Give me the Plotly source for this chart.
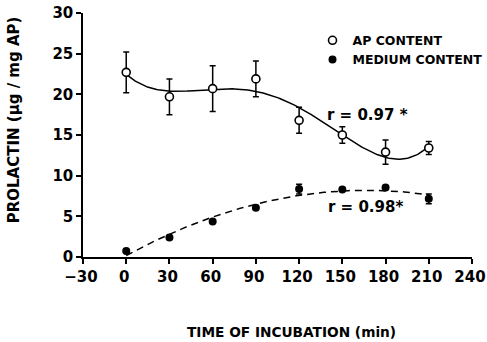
import numpy as np
import plotly.graph_objects as go

time_min = [0, 30, 60, 90, 120, 150, 180, 210]
ap_content = [22.7, 19.7, 20.7, 21.9, 16.8, 15.0, 12.9, 13.4]
ap_err = [2.5, 2.2, 2.8, 2.2, 1.6, 1.0, 1.5, 0.8]
medium_content = [0.75, 2.4, 4.35, 6.05, 8.35, 8.3, 8.55, 7.15]
medium_err = [0.2, 0.2, 0.2, 0.2, 0.6, 0.2, 0.2, 0.6]
x_ticks = [-30, 0, 30, 60, 90, 120, 150, 180, 210, 240]
y_ticks = [0, 5, 10, 15, 20, 25, 30]

FONT = "DejaVu Sans"

# fitted regression curves (derived from the data)
xf = np.linspace(0, 210, 200)
ap_fit = np.polyval(np.polyfit(time_min, ap_content, 4), xf)
med_fit = np.polyval(np.polyfit(time_min, medium_content, 2), xf)

fig = go.Figure()
fig.add_trace(go.Scatter(x=xf, y=ap_fit, mode="lines", hoverinfo="skip",
                         line=dict(color="black", width=1.5), showlegend=False))
fig.add_trace(go.Scatter(x=xf, y=med_fit, mode="lines", hoverinfo="skip",
                         line=dict(color="black", width=1.5, dash="7px,5px"), showlegend=False))
fig.add_trace(go.Scatter(
    x=time_min, y=ap_content, mode="markers", name="<b>AP CONTENT</b>",
    marker=dict(symbol="circle", size=8, color="white", line=dict(color="black", width=1.6)),
    error_y=dict(type="data", array=ap_err, color="black", thickness=1.5, width=3)))
fig.add_trace(go.Scatter(
    x=time_min, y=medium_content, mode="markers", name="<b>MEDIUM CONTENT</b>",
    marker=dict(symbol="circle", size=8, color="black"),
    error_y=dict(type="data", array=medium_err, color="black", thickness=1.5, width=3)))

fig.update_layout(
    width=487, height=342,
    margin=dict(l=83, r=15, t=13, b=85, autoexpand=False),
    paper_bgcolor="white", plot_bgcolor="white",
    font=dict(family=FONT, size=14, color="black"),
    showlegend=True,
    legend=dict(x=0.590, y=0.948, xanchor="left", yanchor="top",
                font=dict(family=FONT, size=12.5, color="black"),
                itemwidth=30, tracegroupgap=0, bgcolor="rgba(0,0,0,0)"),
    xaxis=dict(range=[-30, 240], tickvals=x_ticks, automargin=False,
               ticktext=["<b>\u221230</b>" if v < 0 else "<b>%d</b>" % v for v in x_ticks],
               showgrid=False, zeroline=False, showline=True, linecolor="black", linewidth=1.5,
               ticks="outside", ticklen=5, tickwidth=1.5, tickcolor="black",
               ticklabelshift=-2,
               tickfont=dict(family=FONT, size=15)),
    yaxis=dict(range=[0, 30], tickvals=y_ticks, automargin=False,
               ticktext=["<b>%d</b>" % v for v in y_ticks],
               showgrid=False, zeroline=False, showline=True, linecolor="black", linewidth=1.5,
               ticks="outside", ticklen=5, tickwidth=1.5, tickcolor="black",
               tickfont=dict(family=FONT, size=15)),
    annotations=[
        dict(x=-0.177, y=0.561, xref="paper", yref="paper", text="<b>PROLACTIN (\u03bcg / mg AP)</b>",
             textangle=-90, showarrow=False, font=dict(family=FONT, size=15),
             xanchor="center", yanchor="middle"),
        dict(x=0.535, y=-0.307, xref="paper", yref="paper", text="<b>TIME OF INCUBATION (min)</b>",
             showarrow=False, font=dict(family=FONT, size=13.7), xanchor="center", yanchor="middle"),
        dict(x=0.84, y=17.45, xref="paper", yref="y", text="<b>r = 0.97 *</b>", showarrow=False,
             font=dict(family=FONT, size=15), xanchor="right", yanchor="middle"),
        dict(x=0.828, y=6.15, xref="paper", yref="y", text="<b>r = 0.98*</b>", showarrow=False,
             font=dict(family=FONT, size=15), xanchor="right", yanchor="middle"),
    ],
)
fig.write_html("out.html", config={"displayModeBar": False},
               post_script="document.body.style.margin='0';")
